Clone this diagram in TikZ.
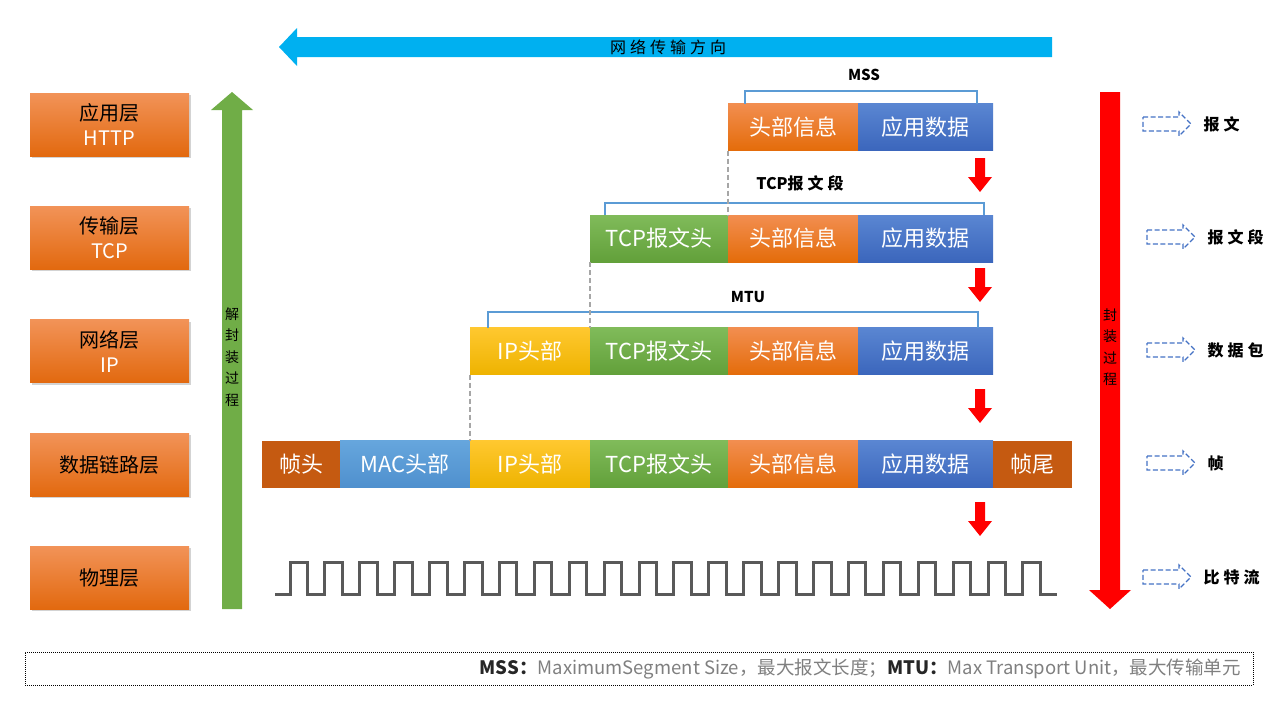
\documentclass[tikz,border=0pt]{standalone}
\usepackage{fontspec}
\setmainfont{Noto Sans CJK SC}
\newfontfamily\spacedcjk[LetterSpace=25]{Noto Sans CJK SC}
\usetikzlibrary{positioning,shadows}

\definecolor{lyTop}{HTML}{F29358}
\definecolor{lyBot}{HTML}{E2690F}
\definecolor{orgTop}{HTML}{F28E50}
\definecolor{orgBot}{HTML}{E46C0A}
\definecolor{bluTop}{HTML}{5A86D2}
\definecolor{bluBot}{HTML}{3B66BC}
\definecolor{grnTop}{HTML}{80BB5A}
\definecolor{grnBot}{HTML}{62A03A}
\definecolor{ylwTop}{HTML}{FFC830}
\definecolor{ylwBot}{HTML}{EEB300}
\definecolor{macTop}{HTML}{66A6DD}
\definecolor{macBot}{HTML}{4F90CE}
\definecolor{frmBrown}{HTML}{C55A11}
\definecolor{braceBlue}{HTML}{5B9BD5}
\definecolor{netBlue}{HTML}{00B0F0}
\definecolor{decGreen}{HTML}{70AD47}
\definecolor{encRed}{HTML}{FF0000}
\definecolor{hollowBlue}{HTML}{4472C4}
\definecolor{waveGrey}{HTML}{595959}
\definecolor{noteGrey}{HTML}{7F7F7F}

\begin{document}
\begin{tikzpicture}[x=1pt, y=-1pt,
  layer/.style={rectangle, minimum width=159pt, minimum height=63pt, inner sep=0pt, top color=lyTop, bottom color=lyBot, drop shadow={shadow xshift=2pt, shadow yshift=-2pt, opacity=0.35}, align=center, font=\fontsize{20}{25}\selectfont},
  cell/.style={rectangle, minimum height=47pt, inner sep=0pt, outer sep=0pt, text=white, font=\fontsize{22}{22}\selectfont},
  hdrcell/.style={cell, minimum width=130pt, top color=orgTop, bottom color=orgBot},
  appcell/.style={cell, minimum width=135pt, top color=bluTop, bottom color=bluBot},
  tcpcell/.style={cell, minimum width=138pt, top color=grnTop, bottom color=grnBot},
  ipcell/.style={cell, minimum width=120pt, top color=ylwTop, bottom color=ylwBot},
  maccell/.style={cell, minimum width=130pt, top color=macTop, bottom color=macBot},
  frmcell/.style={cell, minimum width=#1, fill=frmBrown},
  brace/.style={draw=braceBlue, line width=2pt},
  guide/.style={draw=black!35, dash pattern=on 5pt off 3pt, line width=1.2pt},
  lbl/.style={font=\fontsize{15}{15}\selectfont\bfseries},
  vtext/.style={align=center, font=\fontsize{14}{21.5}\selectfont},
  hollow/.style={draw=hollowBlue, dash pattern=on 5pt off 2.5pt, line width=1.3pt, line join=miter},
  pdu/.style={font=\fontsize{16}{16}\spacedcjk\bfseries}
]
  \useasboundingbox (0,0) rectangle (1280,720);

  % network direction
  \fill[netBlue] (1052,37) -- (297,37) -- (297,28) -- (279,47) -- (297,66) -- (297,57) -- (1052,57) -- cycle;
  \node[font=\fontsize{16}{16}\spacedcjk] (netdir) at (668,47) {网络传输方向};

  % layer stack
  \node[layer] (lapp) at (109.5,124.5) {应用层\\\textcolor{white}{HTTP}};
  \node[layer] (ltrans) at (109.5,237.5) {传输层\\\textcolor{white}{TCP}};
  \node[layer] (lnet) at (109.5,351) {网络层\\\textcolor{white}{IP}};
  \node[layer] (llink) at (109.5,464.5) {数据链路层};
  \node[layer] (lphy) at (109.5,577.5) {物理层};

  % decapsulation arrow
  \fill[decGreen] (222,609) -- (222,110) -- (211,110) -- (232,92) -- (253,110) -- (242,110) -- (242,609) -- cycle;
  \node[vtext] (decap) at (232,357) {解\\封\\装\\过\\程};

  % encapsulation arrow
  \fill[encRed] (1100,92) -- (1120,92) -- (1120,590) -- (1131,590) -- (1110,609) -- (1089,590) -- (1100,590) -- cycle;
  \node[vtext] (encap) at (1110,347) {封\\装\\过\\程};

  % application message
  \node[hdrcell, anchor=west] (r1hdr) at (728,127) {头部信息};
  \node[appcell, right=0pt of r1hdr] (r1app) {应用数据};
  \draw[brace] ([xshift=17pt]r1hdr.north west) -- ++(0,-13) -| ([xshift=-16pt]r1app.north east);
  \node[lbl] (mss) at (864,75) {MSS};

  % TCP segment
  \node[tcpcell, anchor=west] (r2tcp) at (590,238.5) {TCP报文头};
  \node[hdrcell, right=0pt of r2tcp] (r2hdr) {头部信息};
  \node[appcell, right=0pt of r2hdr] (r2app) {应用数据};
  \draw[brace] ([xshift=15pt]r2tcp.north west) -- ++(0,-12) -| ([xshift=-9pt]r2app.north east);
  \node[lbl, font=\fontsize{16}{16}\selectfont\bfseries] (seg) at (800,183) {TCP{\spacedcjk 报文段}};

  % IP packet
  \node[ipcell, anchor=west] (r3ip) at (470,351) {IP头部};
  \node[tcpcell, right=0pt of r3ip] (r3tcp) {TCP报文头};
  \node[hdrcell, right=0pt of r3tcp] (r3hdr) {头部信息};
  \node[appcell, right=0pt of r3hdr] (r3app) {应用数据};
  \draw[brace] ([xshift=18pt]r3ip.north west) -- ++(0,-16) -| ([xshift=-15pt]r3app.north east);
  \node[lbl] (mtu) at (748,297) {MTU};

  % frame
  \node[frmcell=78pt, anchor=west] (r4fh) at (262,464) {帧头};
  \node[maccell, right=0pt of r4fh] (r4mac) {MAC头部};
  \node[ipcell, right=0pt of r4mac] (r4ip) {IP头部};
  \node[tcpcell, right=0pt of r4ip] (r4tcp) {TCP报文头};
  \node[hdrcell, right=0pt of r4tcp] (r4hdr) {头部信息};
  \node[appcell, right=0pt of r4hdr] (r4app) {应用数据};
  \node[frmcell=79pt, right=0pt of r4app] (r4ft) {帧尾};

  % header guides
  \draw[guide] (r1hdr.south west) -- (r2hdr.north west);
  \draw[guide] (r2tcp.south west) -- (r3tcp.north west);
  \draw[guide] (r3ip.south west) -- (r4ip.north west);

  % step arrows
  \foreach \y in {158,268,389,502}
    \fill[encRed] (975,\y) -- (985,\y) -- (985,\y+19) -- (992,\y+19) -- (980,\y+34) -- (968,\y+19) -- (975,\y+19) -- cycle;

  % bit stream
  \draw[waveGrey, line width=3pt, line join=miter] (275,594)
    foreach \i in {0,...,21} { -- (290+\i*34.9,594) -- (290+\i*34.9,562) -- (307.5+\i*34.9,562) -- (307.5+\i*34.9,594) }
    -- (1057,594);

  % data units
  \foreach \y/\x/\txt/\nm in {124/1143/报文/pdu1, 237/1147/报文段/pdu2, 350/1147/数据包/pdu3, 463/1147/帧/pdu4, 577/1143/比特流/pdu5} {
    \draw[hollow] (\x,\y-7) -- (\x+36,\y-7) -- (\x+36,\y-12) -- (\x+48,\y) -- (\x+36,\y+12) -- (\x+36,\y+7) -- (\x,\y+7) -- cycle;
    \node[pdu, anchor=west] (\nm) at (\x+57,\y) {\txt};
  }

  % note
  \node[draw, dash pattern=on 1pt off 1pt, line width=0.8pt, minimum width=1228pt, minimum height=33pt] (notebox) at (639,668.5) {};
  \node[anchor=east, text=noteGrey, font=\fontsize{18.5}{18.5}\selectfont] (note) at ([xshift=-9pt]notebox.east) {{\color{black!85}\bfseries MSS：}MaximumSegment Size，最大报文长度；{\color{black!85}\bfseries MTU：}Max Transport Unit，最大传输单元};
\end{tikzpicture}
\end{document}
